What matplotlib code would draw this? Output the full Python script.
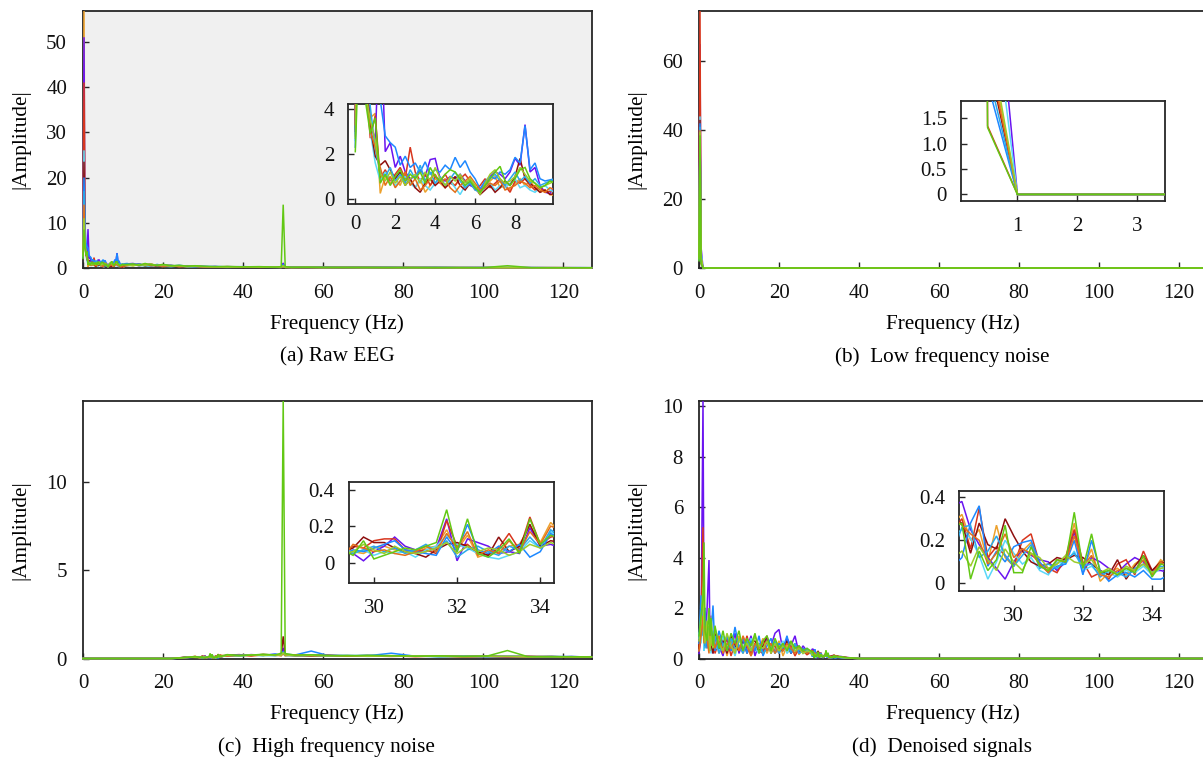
import numpy as np
import matplotlib
matplotlib.use("Agg")
import matplotlib.pyplot as plt

plt.rcParams['font.family'] = ['Liberation Serif', 'DejaVu Serif']
plt.rcParams['font.size'] = 15

# ---------------------------------------------------------------------------
# Channel colours, in drawing order (last one ends up on top)
channel_colors = ['#eda12c', '#6a14f0', '#d8361e', '#5ad8f8', '#8e0f0f',
                  '#1d88ff', '#2aa8e8', '#e2701a', '#9ccc2a', '#62c814']

main_xticks = [0, 20, 40, 60, 80, 100, 120]

# ---------------------------------------------------------------------------
# (a) Raw EEG: 0.25 Hz bins from 0 to 10 Hz, coarser bins above
raw_freq_fine = np.arange(0, 10.001, 0.25)
raw_freq_tail = [11, 12.5, 14, 15.5, 17, 18.5, 20, 22, 24, 26, 28, 30, 33, 36, 40,
                 44, 48, 49.5, 50, 50.5, 52, 56, 60, 65, 70, 76, 82, 88, 94, 100,
                 106, 112, 118, 124, 127]
raw_amp_fine = [
    [3.5, 56.8, 7.8, 3.6, 3.8, 0.25, 1.0, 0.7, 0.9, 0.6, 1.2, 0.8, 0.5, 0.9, 0.3, 0.6, 0.9, 0.7, 0.5, 0.8,
     0.6, 1.0, 0.8, 0.7, 0.5, 0.3, 0.6, 0.8, 1.0, 0.5, 0.6, 0.4, 0.7, 0.9, 0.6, 0.8, 0.5, 0.3, 0.4, 0.2, 0.15],
    [3.1, 51.0, 6.2, 3.4, 2.6, 8.6, 2.1, 2.5, 1.4, 1.9, 1.2, 0.9, 1.0, 1.3, 1.0, 1.75, 1.8, 0.9, 0.8, 1.0,
     0.9, 1.1, 0.8, 0.6, 0.5, 0.35, 0.7, 1.0, 1.2, 1.1, 0.9, 1.2, 1.8, 1.5, 3.3, 1.2, 1.4, 0.6, 0.3, 0.25, 0.6],
    [2.8, 41.0, 5.5, 2.7, 3.7, 0.9, 1.3, 0.8, 1.1, 1.4, 0.9, 2.3, 1.2, 0.8, 1.1, 0.6, 1.0, 0.8, 1.1, 0.7,
     0.6, 0.9, 1.1, 0.8, 0.4, 0.6, 0.9, 0.5, 0.7, 0.9, 0.6, 0.3, 0.8, 0.7, 0.9, 0.6, 0.4, 0.5, 0.3, 0.35, 0.3],
    [2.6, 26.0, 4.9, 3.0, 1.6, 0.8, 1.2, 0.9, 0.6, 0.8, 1.0, 0.7, 0.5, 0.9, 0.6, 0.4, 0.7, 0.9, 0.6, 0.8,
     0.5, 0.2, 0.6, 0.8, 0.5, 0.3, 0.5, 0.7, 0.4, 0.6, 0.5, 0.7, 0.9, 0.5, 0.6, 0.4, 0.3, 0.5, 0.6, 0.4, 0.3],
    [3.0, 23.5, 5.8, 3.2, 1.9, 1.5, 1.7, 1.3, 0.9, 1.2, 0.6, 0.9, 0.5, 0.3, 0.7, 0.9, 0.6, 0.8, 0.5, 0.7,
     1.0, 0.6, 0.4, 0.7, 0.5, 0.2, 0.4, 0.6, 0.3, 0.5, 0.8, 0.6, 1.0, 1.8, 0.9, 0.7, 0.5, 0.3, 0.4, 0.2, 0.25],
    [2.3, 20.0, 9.5, 5.6, 4.8, 4.4, 2.8, 2.5, 2.3, 1.5, 1.9, 1.4, 1.6, 1.2, 1.65, 1.1, 1.3, 1.2, 1.5, 1.3,
     1.85, 1.4, 1.7, 1.2, 0.9, 0.45, 0.8, 1.0, 0.9, 1.2, 1.1, 1.3, 1.85, 1.6, 3.25, 1.3, 1.6, 0.9, 0.8, 0.85, 0.9],
    [2.9, 17.0, 6.5, 4.1, 2.2, 1.2, 1.0, 1.4, 0.8, 1.1, 0.7, 1.3, 0.9, 1.5, 0.8, 1.2, 0.7, 1.0, 0.6, 0.9,
     1.2, 0.8, 0.5, 0.7, 0.4, 0.3, 0.6, 0.9, 1.1, 0.8, 0.6, 0.9, 1.2, 0.8, 1.0, 0.7, 0.9, 0.6, 0.7, 0.8, 0.9],
    [3.3, 14.0, 5.0, 3.0, 2.3, 1.4, 0.6, 1.0, 0.5, 0.8, 1.2, 0.6, 0.9, 0.4, 0.6, 0.9, 1.1, 0.7, 0.9, 0.5,
     0.3, 0.6, 0.8, 1.0, 0.7, 0.4, 0.5, 0.7, 0.6, 0.8, 0.4, 0.5, 0.6, 0.8, 0.7, 0.5, 0.6, 0.4, 0.3, 0.5, 0.4],
    [2.7, 11.0, 4.8, 3.5, 2.6, 1.1, 0.8, 1.2, 0.7, 1.0, 0.6, 0.9, 1.1, 0.7, 1.2, 0.8, 1.4, 0.9, 0.6, 1.0,
     0.8, 1.1, 0.7, 0.9, 0.6, 0.2, 0.7, 1.1, 1.3, 0.9, 0.7, 0.8, 1.0, 1.4, 1.1, 0.8, 0.7, 0.5, 0.6, 0.7, 0.8],
    [2.1, 8.5, 4.4, 2.9, 3.6, 0.7, 1.1, 0.6, 1.0, 1.3, 0.8, 1.1, 0.9, 1.2, 0.7, 1.4, 1.0, 0.8, 1.1, 1.3,
     1.2, 0.9, 0.6, 0.8, 0.5, 0.3, 0.6, 0.9, 1.2, 1.45, 0.8, 0.6, 0.9, 1.3, 1.4, 0.9, 0.7, 0.5, 0.6, 0.8, 0.7],
]
raw_amp_tail = [
    [0.7, 0.5, 0.8, 0.4, 0.6, 0.5, 0.3, 0.5, 0.4, 0.35, 0.45, 0.3, 0.25, 0.3, 0.2, 0.25, 0.2, 0.15, 0.4, 0.15,
     0.18, 0.12, 0.15, 0.1, 0.12, 0.08, 0.1, 0.07, 0.09, 0.06, 0.08, 0.06, 0.07, 0.05, 0.06],
    [0.9, 1.0, 0.6, 0.8, 0.5, 0.7, 0.6, 0.4, 0.5, 0.3, 0.4, 0.35, 0.2, 0.3, 0.25, 0.2, 0.22, 0.2, 1.1, 0.2,
     0.15, 0.17, 0.12, 0.14, 0.1, 0.12, 0.08, 0.1, 0.07, 0.09, 0.06, 0.08, 0.05, 0.07, 0.05],
    [0.6, 0.8, 0.5, 0.7, 0.9, 0.4, 0.5, 0.6, 0.3, 0.45, 0.3, 0.2, 0.3, 0.2, 0.25, 0.15, 0.2, 0.18, 0.5, 0.2,
     0.12, 0.15, 0.1, 0.13, 0.09, 0.11, 0.08, 0.1, 0.06, 0.08, 0.07, 0.06, 0.08, 0.05, 0.05],
    [0.5, 0.6, 0.7, 0.4, 0.5, 0.6, 0.4, 0.3, 0.45, 0.3, 0.25, 0.3, 0.2, 0.15, 0.2, 0.18, 0.15, 0.12, 0.3, 0.14,
     0.1, 0.12, 0.08, 0.1, 0.07, 0.09, 0.06, 0.08, 0.05, 0.07, 0.05, 0.06, 0.04, 0.05, 0.04],
    [0.8, 0.6, 0.9, 0.5, 0.7, 0.4, 0.6, 0.5, 0.4, 0.5, 0.3, 0.25, 0.3, 0.2, 0.15, 0.2, 0.17, 0.15, 0.6, 0.15,
     0.13, 0.1, 0.12, 0.09, 0.11, 0.08, 0.09, 0.06, 0.08, 0.06, 0.07, 0.05, 0.06, 0.05, 0.04],
    [1.0, 0.7, 0.9, 0.6, 0.8, 0.5, 0.7, 0.4, 0.6, 0.4, 0.5, 0.3, 0.35, 0.25, 0.3, 0.2, 0.25, 0.2, 0.8, 0.22,
     0.16, 0.2, 0.13, 0.15, 0.11, 0.13, 0.09, 0.12, 0.08, 0.1, 0.07, 0.09, 0.06, 0.07, 0.06],
    [0.6, 0.9, 0.5, 0.7, 0.4, 0.8, 0.5, 0.6, 0.35, 0.4, 0.3, 0.35, 0.25, 0.2, 0.22, 0.25, 0.18, 0.15, 0.45, 0.17,
     0.14, 0.11, 0.13, 0.1, 0.09, 0.1, 0.07, 0.09, 0.08, 0.06, 0.07, 0.05, 0.06, 0.04, 0.05],
    [0.5, 0.7, 0.6, 0.9, 0.5, 0.6, 0.4, 0.5, 0.3, 0.35, 0.4, 0.25, 0.2, 0.25, 0.18, 0.2, 0.15, 0.14, 0.35, 0.13,
     0.11, 0.13, 0.09, 0.11, 0.08, 0.09, 0.07, 0.08, 0.06, 0.07, 0.05, 0.06, 0.05, 0.04, 0.05],
    [0.7, 0.5, 0.8, 0.6, 0.9, 0.5, 0.7, 0.4, 0.5, 0.3, 0.4, 0.3, 0.25, 0.2, 0.25, 0.18, 0.2, 0.17, 0.5, 0.15,
     0.12, 0.14, 0.1, 0.12, 0.09, 0.1, 0.08, 0.09, 0.07, 0.06, 0.08, 0.06, 0.05, 0.06, 0.05],
    [0.8, 0.9, 0.6, 1.0, 0.7, 0.6, 0.8, 0.5, 0.6, 0.4, 0.5, 0.4, 0.3, 0.35, 0.25, 0.3, 0.2, 0.3, 14.0, 0.3,
     0.15, 0.18, 0.14, 0.12, 0.13, 0.1, 0.11, 0.09, 0.1, 0.08, 0.5, 0.08, 0.07, 0.06, 0.07],
]

# ---------------------------------------------------------------------------
# (b) Low frequency noise
low_freq = [0, 0.25, 0.5, 0.75, 1.0, 127]
low_amp = [
    [3.5, 60.0, 3.1, 1.55, 0, 0],
    [3.1, 65.0, 6.2, 3.1, 0, 0],
    [2.8, 74.6, 1.35, 0.68, 0, 0],
    [2.6, 44.0, 4.65, 2.33, 0, 0],
    [3.0, 43.0, 2.74, 1.37, 0, 0],
    [2.3, 42.0, 2.2, 1.1, 0, 0],
    [2.9, 41.0, 2.45, 1.23, 0, 0],
    [3.3, 40.0, 2.9, 1.45, 0, 0],
    [2.7, 39.5, 3.3, 1.65, 0, 0],
    [2.1, 38.5, 1.32, 0.66, 0, 0],
]

# ---------------------------------------------------------------------------
# (c) High frequency noise: stop band up to 22 Hz, 0.25 Hz bins 29.25-34.5 Hz
high_freq_stop = [0, 22]
high_amp_stop = [0.0, 0.0]
high_freq_low = [24, 26, 28]
high_freq_fine = np.arange(29.25, 34.501, 0.25)
high_freq_tail = [36, 39, 42, 45, 48, 49.5, 50, 50.5, 53, 57, 61, 66, 71, 77, 83,
                  89, 95, 101, 106, 111, 117, 122, 127]
high_amp_low = [
    [0.03, 0.08, 0.10], [0.02, 0.06, 0.09], [0.04, 0.07, 0.11], [0.02, 0.05, 0.08],
    [0.03, 0.09, 0.07], [0.04, 0.06, 0.10], [0.02, 0.07, 0.09], [0.03, 0.05, 0.12],
    [0.02, 0.08, 0.06], [0.03, 0.06, 0.11],
]
high_amp_fine = [
    [0.10, 0.06, 0.05, 0.08, 0.09, 0.07, 0.06, 0.05, 0.08, 0.09, 0.18, 0.07, 0.15, 0.03, 0.05, 0.06, 0.09, 0.10, 0.20, 0.11, 0.22, 0.16],
    [0.06, 0.05, 0.01, 0.06, 0.09, 0.14, 0.09, 0.07, 0.06, 0.08, 0.24, 0.01, 0.13, 0.11, 0.09, 0.05, 0.06, 0.05, 0.19, 0.09, 0.10, 0.08],
    [0.05, 0.09, 0.08, 0.12, 0.13, 0.13, 0.07, 0.06, 0.07, 0.05, 0.23, 0.09, 0.10, 0.05, 0.04, 0.08, 0.16, 0.07, 0.25, 0.10, 0.14, 0.15],
    [0.09, 0.05, 0.07, 0.04, 0.06, 0.05, 0.06, 0.03, 0.07, 0.09, 0.15, 0.10, 0.08, 0.05, 0.03, 0.02, 0.04, 0.06, 0.12, 0.08, 0.17, 0.13],
    [0.06, 0.08, 0.14, 0.11, 0.11, 0.08, 0.06, 0.05, 0.03, 0.07, 0.10, 0.11, 0.09, 0.06, 0.04, 0.14, 0.06, 0.09, 0.21, 0.09, 0.12, 0.11],
    [0.04, 0.07, 0.06, 0.08, 0.10, 0.12, 0.07, 0.06, 0.05, 0.04, 0.14, 0.06, 0.21, 0.07, 0.05, 0.09, 0.06, 0.10, 0.03, 0.06, 0.16, 0.12],
    [0.08, 0.05, 0.07, 0.09, 0.06, 0.08, 0.05, 0.07, 0.10, 0.06, 0.12, 0.03, 0.07, 0.09, 0.06, 0.04, 0.09, 0.07, 0.14, 0.08, 0.18, 0.14],
    [0.03, 0.10, 0.08, 0.06, 0.07, 0.05, 0.04, 0.06, 0.09, 0.06, 0.16, 0.08, 0.17, 0.04, 0.07, 0.05, 0.12, 0.06, 0.17, 0.10, 0.20, 0.18],
    [0.05, 0.06, 0.10, 0.07, 0.05, 0.09, 0.06, 0.05, 0.06, 0.08, 0.11, 0.05, 0.09, 0.06, 0.08, 0.07, 0.04, 0.06, 0.10, 0.08, 0.11, 0.09],
    [0.07, 0.04, 0.12, 0.02, 0.04, 0.06, 0.08, 0.07, 0.09, 0.11, 0.29, 0.06, 0.24, 0.05, 0.03, 0.07, 0.13, 0.05, 0.24, 0.10, 0.15, 0.13],
]
high_amp_tail = [
    [0.15, 0.2, 0.18, 0.22, 0.17, 0.2, 0.3, 0.15, 0.2, 0.18, 0.15, 0.17, 0.13, 0.16, 0.12, 0.14, 0.11, 0.13, 0.12, 0.1, 0.12, 0.09, 0.1],
    [0.2, 0.16, 0.22, 0.18, 0.24, 0.18, 0.6, 0.2, 0.17, 0.2, 0.16, 0.14, 0.17, 0.13, 0.15, 0.12, 0.13, 0.1, 0.12, 0.11, 0.09, 0.11, 0.08],
    [0.18, 0.22, 0.15, 0.2, 0.21, 0.16, 0.35, 0.19, 0.15, 0.17, 0.19, 0.13, 0.15, 0.14, 0.11, 0.13, 0.12, 0.11, 0.1, 0.12, 0.1, 0.08, 0.09],
    [0.12, 0.15, 0.2, 0.16, 0.18, 0.22, 0.25, 0.16, 0.19, 0.14, 0.16, 0.18, 0.12, 0.15, 0.13, 0.11, 0.14, 0.1, 0.11, 0.09, 0.11, 0.1, 0.08],
    [0.16, 0.19, 0.17, 0.23, 0.19, 0.21, 1.25, 0.22, 0.18, 0.15, 0.17, 0.15, 0.14, 0.12, 0.14, 0.12, 0.1, 0.12, 0.09, 0.11, 0.08, 0.1, 0.07],
    [0.14, 0.21, 0.19, 0.17, 0.25, 0.19, 0.4, 0.24, 0.2, 0.42, 0.18, 0.16, 0.15, 0.3, 0.13, 0.15, 0.12, 0.14, 0.11, 0.1, 0.12, 0.09, 0.1],
    [0.17, 0.14, 0.2, 0.19, 0.16, 0.2, 0.3, 0.18, 0.16, 0.19, 0.14, 0.16, 0.18, 0.13, 0.15, 0.1, 0.13, 0.11, 0.12, 0.1, 0.09, 0.11, 0.08],
    [0.13, 0.18, 0.16, 0.2, 0.18, 0.17, 0.28, 0.17, 0.21, 0.16, 0.17, 0.13, 0.16, 0.14, 0.12, 0.14, 0.11, 0.13, 0.1, 0.09, 0.11, 0.08, 0.09],
    [0.19, 0.15, 0.21, 0.17, 0.2, 0.18, 0.32, 0.2, 0.16, 0.18, 0.15, 0.17, 0.13, 0.15, 0.14, 0.12, 0.11, 0.12, 0.13, 0.1, 0.1, 0.09, 0.08],
    [0.22, 0.17, 0.19, 0.24, 0.2, 0.3, 14.55, 0.28, 0.19, 0.21, 0.17, 0.15, 0.18, 0.16, 0.13, 0.15, 0.12, 0.14, 0.45, 0.11, 0.1, 0.1, 0.09],
]

# ---------------------------------------------------------------------------
# (d) Denoised signals
den_freq_low = [0, 0.5, 1.0, 1.25, 1.5, 2.0, 2.5, 2.75, 3.0, 3.5, 4.0] + list(range(5, 29))
den_freq_fine = np.arange(28.25, 34.501, 0.25)
den_freq_tail = [35.5, 37, 38.5, 40, 127]
den_amp_low = [
    [0.3, 1.2, 2.2, 0.9, 1.6, 0.4, 1.3, 0.6, 1.7, 0.3, 0.9, 0.2, 0.8, 0.1, 0.7, 0.3, 0.9, 0.2, 0.6, 0.1,
     0.5, 0.4, 0.8, 0.2, 0.6, 0.3, 0.7, 0.1, 0.5, 0.2, 0.6, 0.15, 0.4, 0.2, 0.3],
    [0.2, 0.8, 10.2, 1.5, 0.6, 1.9, 3.9, 0.7, 1.1, 0.2, 0.8, 0.5, 0.1, 0.9, 0.3, 1.0, 0.2, 0.7, 0.4, 0.9,
     0.1, 0.6, 0.3, 0.8, 0.5, 1.0, 1.15, 0.3, 0.8, 0.5, 0.9, 0.2, 0.5, 0.3, 0.2],
    [0.5, 1.5, 5.2, 0.8, 1.2, 0.5, 1.0, 1.4, 0.3, 0.9, 0.2, 0.7, 0.4, 0.8, 0.1, 0.6, 0.5, 0.3, 0.9, 0.2,
     0.6, 0.3, 0.2, 0.7, 0.4, 0.5, 0.2, 0.6, 0.3, 0.5, 0.1, 0.4, 0.3, 0.15, 0.25],
    [1.0, 0.6, 1.8, 0.3, 0.9, 1.3, 0.4, 0.8, 0.2, 1.1, 0.5, 0.3, 0.9, 0.4, 0.6, 0.1, 0.7, 0.5, 0.3, 0.8,
     0.4, 0.2, 0.6, 0.3, 0.5, 0.2, 0.4, 0.7, 0.2, 0.4, 0.3, 0.5, 0.2, 0.3, 0.2],
    [0.4, 1.1, 2.6, 1.3, 0.5, 1.2, 0.3, 0.9, 0.6, 0.2, 1.0, 0.4, 0.7, 0.2, 0.9, 0.5, 0.3, 0.8, 0.2, 0.6,
     0.7, 0.3, 0.5, 0.9, 0.2, 0.6, 0.4, 0.3, 0.7, 0.2, 0.5, 0.3, 0.35, 0.2, 0.3],
    [0.6, 2.5, 1.4, 0.7, 2.0, 0.4, 1.2, 0.5, 1.0, 2.1, 0.3, 1.1, 0.5, 0.9, 0.3, 1.25, 0.4, 0.8, 0.2, 0.7,
     0.3, 0.9, 0.1, 0.5, 0.8, 0.2, 0.6, 0.4, 0.9, 0.2, 0.5, 0.3, 0.4, 0.25, 0.3],
    [0.8, 1.9, 0.9, 1.6, 0.4, 1.1, 0.7, 0.3, 1.2, 0.6, 0.9, 0.2, 0.6, 0.3, 0.8, 0.4, 0.5, 0.2, 0.7, 0.3,
     0.5, 0.6, 0.2, 0.4, 0.3, 0.7, 0.2, 0.5, 0.4, 0.3, 0.6, 0.2, 0.3, 0.4, 0.2],
    [0.3, 0.9, 1.7, 0.6, 1.3, 0.8, 0.2, 1.6, 0.5, 0.8, 0.4, 0.9, 0.2, 0.6, 0.4, 0.7, 0.3, 0.9, 0.5, 0.1,
     0.6, 0.4, 0.7, 0.3, 0.6, 0.2, 0.5, 0.3, 0.6, 0.4, 0.2, 0.5, 0.3, 0.2, 0.3],
    [0.7, 1.4, 2.8, 1.0, 0.6, 1.5, 0.8, 0.3, 0.9, 0.4, 1.2, 0.6, 0.3, 1.0, 0.5, 0.2, 0.8, 0.4, 0.6, 0.3,
     0.9, 0.5, 0.4, 0.7, 0.2, 0.6, 0.3, 0.5, 0.4, 0.6, 0.3, 0.4, 0.2, 0.3, 0.25],
    [0.9, 1.7, 2.3, 4.6, 1.1, 0.7, 2.0, 0.9, 1.6, 0.5, 1.3, 0.4, 1.1, 0.3, 1.0, 0.6, 1.1, 0.3, 0.8, 0.5,
     1.0, 0.2, 0.7, 0.9, 0.3, 0.8, 0.4, 0.6, 0.3, 0.7, 0.4, 0.5, 0.3, 0.4, 0.3],
]
den_amp_fine = [
    [0.28, 0.32, 0.20, 0.25, 0.10, 0.27, 0.12, 0.08, 0.15, 0.19, 0.08, 0.06, 0.09, 0.12, 0.28, 0.07, 0.16, 0.01, 0.05, 0.07, 0.04, 0.09, 0.12, 0.05, 0.11, 0.08],
    [0.36, 0.38, 0.25, 0.18, 0.12, 0.07, 0.02, 0.10, 0.16, 0.13, 0.11, 0.10, 0.06, 0.10, 0.24, 0.05, 0.12, 0.10, 0.07, 0.05, 0.09, 0.12, 0.10, 0.06, 0.06, 0.05],
    [0.25, 0.30, 0.16, 0.35, 0.12, 0.17, 0.13, 0.08, 0.20, 0.23, 0.09, 0.07, 0.05, 0.12, 0.25, 0.10, 0.03, 0.05, 0.02, 0.09, 0.11, 0.04, 0.15, 0.06, 0.09, 0.10],
    [0.22, 0.25, 0.21, 0.13, 0.02, 0.10, 0.20, 0.14, 0.09, 0.12, 0.06, 0.04, 0.10, 0.09, 0.15, 0.06, 0.08, 0.04, 0.05, 0.03, 0.06, 0.05, 0.08, 0.04, 0.07, 0.06],
    [0.30, 0.28, 0.14, 0.28, 0.18, 0.16, 0.30, 0.22, 0.15, 0.10, 0.08, 0.09, 0.12, 0.11, 0.13, 0.12, 0.09, 0.06, 0.04, 0.11, 0.02, 0.08, 0.13, 0.06, 0.10, 0.09],
    [0.08, 0.12, 0.28, 0.36, 0.08, 0.15, 0.10, 0.17, 0.19, 0.20, 0.10, 0.05, 0.08, 0.09, 0.20, 0.04, 0.20, 0.06, 0.01, 0.04, 0.05, 0.03, 0.06, 0.02, 0.02, 0.04],
    [0.15, 0.26, 0.27, 0.12, 0.15, 0.22, 0.13, 0.08, 0.13, 0.18, 0.07, 0.09, 0.07, 0.11, 0.14, 0.08, 0.09, 0.03, 0.06, 0.05, 0.03, 0.07, 0.09, 0.05, 0.08, 0.07],
    [0.31, 0.27, 0.23, 0.20, 0.09, 0.14, 0.23, 0.12, 0.16, 0.14, 0.09, 0.05, 0.11, 0.10, 0.22, 0.08, 0.13, 0.04, 0.03, 0.06, 0.07, 0.06, 0.11, 0.04, 0.10, 0.07],
    [0.12, 0.15, 0.08, 0.17, 0.11, 0.06, 0.16, 0.10, 0.06, 0.14, 0.12, 0.07, 0.09, 0.13, 0.10, 0.09, 0.11, 0.05, 0.07, 0.04, 0.08, 0.06, 0.09, 0.05, 0.07, 0.08],
    [0.26, 0.28, 0.02, 0.15, 0.06, 0.11, 0.27, 0.05, 0.05, 0.17, 0.08, 0.06, 0.11, 0.10, 0.33, 0.07, 0.23, 0.05, 0.06, 0.04, 0.07, 0.05, 0.13, 0.03, 0.09, 0.08],
]
den_amp_tail = [
    [0.06, 0.03, 0.01, 0, 0], [0.08, 0.04, 0.02, 0, 0], [0.05, 0.02, 0.01, 0, 0],
    [0.04, 0.03, 0.01, 0, 0], [0.07, 0.03, 0.02, 0, 0], [0.03, 0.02, 0.01, 0, 0],
    [0.05, 0.02, 0.01, 0, 0], [0.06, 0.04, 0.01, 0, 0], [0.04, 0.02, 0.01, 0, 0],
    [0.07, 0.03, 0.02, 0, 0],
]

# ---------------------------------------------------------------------------
# Assemble full spectra
raw_freq = np.concatenate([raw_freq_fine, raw_freq_tail])
raw_spectra = [np.concatenate([a, b]) for a, b in zip(raw_amp_fine, raw_amp_tail)]

high_freq = np.concatenate([high_freq_stop, high_freq_low, high_freq_fine, high_freq_tail])
high_spectra = [np.concatenate([high_amp_stop, a, b, c])
                for a, b, c in zip(high_amp_low, high_amp_fine, high_amp_tail)]

den_freq = np.concatenate([den_freq_low, den_freq_fine, den_freq_tail])
den_spectra = [np.concatenate([a, b, c])
               for a, b, c in zip(den_amp_low, den_amp_fine, den_amp_tail)]

low_spectra = [np.asarray(a) for a in low_amp]

# ---------------------------------------------------------------------------
W, H = 1203, 761
fig = plt.figure(figsize=(W / 100, H / 100), dpi=100)
fig.patch.set_facecolor('white')

SPINE = '#262626'
LABEL_SIZE = 15.3


def px_axes(left, top, right, bottom, **kw):
    return fig.add_axes([left / W, 1 - bottom / H, (right - left) / W, (bottom - top) / H], **kw)


def style(ax, pad=11.5):
    for s in ax.spines.values():
        s.set_color(SPINE)
        s.set_linewidth(1.3)
    ax.tick_params(direction='in', length=4, width=1.0, color=SPINE,
                   top=False, right=False, labelsize=15, pad=pad,
                   labelcolor='#111111')


def draw(ax, freq, spectra, lw=1.1, clip=True):
    for amp, c in zip(spectra, channel_colors):
        ax.plot(freq, amp, color=c, lw=lw, solid_joinstyle='miter', clip_on=clip, zorder=3)


panels = [
    # (rect, freq, spectra, yticks, facecolor, caption, caption shift in px)
    ((83, 11, 591.5, 268), raw_freq, raw_spectra, [0, 10, 20, 30, 40, 50], '#f0f0f0', '(a) Raw EEG', 0),
    ((699, 11, 1207, 268), low_freq, low_spectra, [0, 20, 40, 60], 'white', '(b)  Low frequency noise', -11),
    ((83, 401, 591.5, 658.5), high_freq, high_spectra, [0, 5, 10], 'white', '(c)  High frequency noise', -11),
    ((699, 401, 1207, 658.5), den_freq, den_spectra, [0, 2, 4, 6, 8, 10], 'white', '(d)  Denoised signals', -11),
]

insets = [
    # (rect, xlim, ylim, xticks, yticks, ytick labels, x label pad)
    ((348.3, 104.3, 553, 204), (-0.35, 9.9), (-0.22, 4.2), [0, 2, 4, 6, 8], [0, 2, 4], ['0', '2', '4'], 8),
    ((960.7, 100.7, 1165, 201), (0.05, 3.47), (-0.13, 1.85), [1, 2, 3], [0, 0.5, 1.0, 1.5],
     ['0', '0.5', '1.0', '1.5'], 11.5),
    ((348.5, 482.3, 554, 582.7), (29.39, 34.33), (-0.11, 0.44), [30, 32, 34], [0, 0.2, 0.4],
     ['0', '0.2', '0.4'], 11.5),
    ((958.8, 490.7, 1163.8, 591), (28.41, 34.34), (-0.035, 0.43), [30, 32, 34], [0, 0.2, 0.4],
     ['0', '0.2', '0.4'], 11.5),
]

for (rect, freq, spectra, yticks, face, caption, cap_dx), ins in zip(panels, insets):
    left, top, right, bottom = rect
    ax = px_axes(left, top, right, bottom)
    ax.set_facecolor(face)
    draw(ax, freq, spectra, lw=1.1, clip=False)
    ax.set_xlim(0, 127)
    ax.set_ylim(0, max(float(np.max(a)) for a in spectra))
    ax.set_xticks(main_xticks)
    ax.set_yticks(yticks)
    style(ax)

    cx = (left + right) / 2
    fig.text(cx / W, 1 - (bottom + 56) / H, 'Frequency (Hz)', ha='center', va='center',
             fontsize=LABEL_SIZE)
    fig.text((cx + cap_dx) / W, 1 - (bottom + 89) / H, caption, ha='center', va='center',
             fontsize=LABEL_SIZE)
    fig.text((left - 62) / W, 1 - ((top + bottom) / 2) / H, '|Amplitude|', rotation=90,
             ha='center', va='center', fontsize=LABEL_SIZE)

    irect, xlim, ylim, ixt, iyt, iyl, xpad = ins
    iax = px_axes(*irect, zorder=5)
    iax.set_facecolor('white')
    draw(iax, freq, spectra, lw=1.1, clip=True)
    iax.set_xlim(*xlim)
    iax.set_ylim(*ylim)
    iax.set_xticks(ixt)
    iax.set_yticks(iyt, iyl)
    style(iax)
    iax.tick_params(axis='x', pad=xpad)
    iax.tick_params(axis='y', pad=10)

fig.savefig('out.png', dpi=100)
